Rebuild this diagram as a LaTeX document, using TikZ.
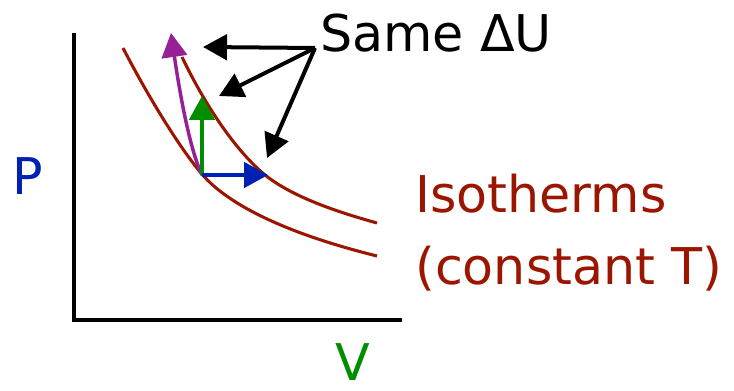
\documentclass[tikz,border=0pt]{standalone}
\usepackage{fontspec}
\setmainfont{DejaVu Sans}
\usetikzlibrary{arrows.meta}
\definecolor{cdred}{RGB}{155,22,0}
\definecolor{cdblue}{RGB}{0,32,178}
\definecolor{cdgreen}{RGB}{0,142,0}
\definecolor{cpurple}{RGB}{150,32,150}
\tikzset{pvplot/.style={x=0.75pt,y=-0.75pt,font=\fontsize{38}{46}\selectfont},
  bigtip/.style={-{Triangle[length=18pt,width=19pt]}},
  isoline/.style={cdred,line width=2.3pt},
  label/.style={anchor=base west,inner sep=0pt}}

\begin{document}
\begin{tikzpicture}[pvplot]
    \useasboundingbox (0,0) rectangle (734,391);
    % axes
    \draw[line width=3pt] (74,33) -- (74,320) -- (402,320);
    \node[label,cdblue] (p) at (12,195) {P};
    \node[label,cdgreen] (v) at (335,380) {V};
    % two isotherms
    \draw[isoline] (123,48) .. controls (150,100) and (180,148) .. (201,173)
      .. controls (225,202) and (280,232) .. (377,256);
    \draw[isoline] (182,57) .. controls (205,105) and (235,150) .. (265,175)
      .. controls (290,195) and (330,210) .. (377,223);
    \coordinate (start) at (202,175);
    \coordinate (upA) at (171,33);
    \coordinate (upB) at (202,96);
    \coordinate (right) at (268,175);
    \draw[bigtip,cpurple,line width=2.6pt] (start) .. controls (190,150) and (180,95) .. (upA);
    \draw[bigtip,cdgreen,line width=2.8pt] (start) -- (upB);
    \draw[bigtip,cdblue,line width=2.8pt] (start) -- (right);
    % labels
    \node[label] (same) at (320,52) {Same ΔU};
    \coordinate (fan) at (315,48);
    \coordinate (tipA) at (203,47);
    \coordinate (tipB) at (219,96);
    \coordinate (tipC) at (267,158);
    \foreach \t in {tipA,tipB,tipC} \draw[bigtip,line width=3pt] (fan) -- (\t);
    \node[label,cdred] (isoA) at (415,213) {Isotherms};
    \node[label,cdred] (isoB) at (415,285) {(constant T)};
\end{tikzpicture}
\end{document}
